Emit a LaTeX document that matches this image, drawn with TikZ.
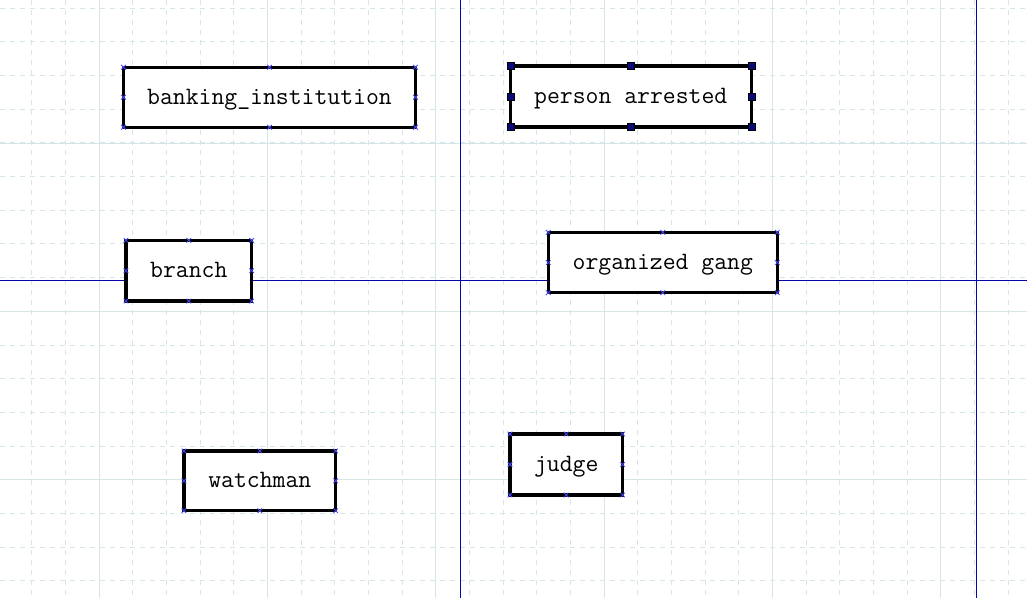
\documentclass[tikz,border=0pt]{standalone}
\definecolor{gridc}{RGB}{214,229,229}
\definecolor{guide}{RGB}{5,5,170}
\definecolor{mark}{RGB}{70,70,255}
\definecolor{handle}{RGB}{10,10,120}
\begin{document}
\begin{tikzpicture}[x=1pt,y=-1pt,
  gridd/.style={draw=gridc, line width=1pt, dash pattern=on 5pt off 5pt},
  grids/.style={draw=gridc, line width=1pt},
  guideline/.style={draw=guide, line width=1.1pt},
  box/.style={draw=black, line width=3.2pt, fill=white, inner sep=0pt, outer sep=0pt,
    font=\ttfamily\fontsize{25}{27}\selectfont, text=black,
    text height=14pt, text depth=0pt},
  xmark/.style={draw=mark, line width=0.8pt},
  hsq/.style={fill=handle, draw=black, line width=0.4pt}]
\useasboundingbox (0,0) rectangle (1027,598);
\fill[white] (0,0) rectangle (1027,598);
% grid
\foreach \k in {0,...,29}{
  \pgfmathsetmacro\xx{31.7+\k*33.67}
  \draw[gridd] (\xx,0) -- (\xx,598);
}
\foreach \k in {0,...,17}{
  \pgfmathsetmacro\yy{8.3+\k*33.67}
  \draw[gridd] (0,\yy) -- (1027,\yy);
}
\foreach \xx in {99,267.4,435.7,604,772.4,940.7}{
  \draw[grids] (\xx,0) -- (\xx,598);
}
\foreach \yy in {143,311.3,479.7}{
  \draw[grids] (0,\yy) -- (1027,\yy);
}
% guide lines
\draw[guideline] (460.3,0) -- (460.3,598);
\draw[guideline] (976.3,0) -- (976.3,598);
\draw[guideline] (0,280.3) -- (1027,280.3);
% boxes
\node[box, minimum width=292pt, minimum height=60pt] (bank) at (269.5,97.3) {banking\_institution};
\node[box, minimum width=241pt, minimum height=61pt] (person) at (630.7,96.5) {person arrested};
\node[box, minimum width=125.7pt, minimum height=60.7pt] (branch) at (188.8,270.7) {branch};
\node[box, minimum width=229pt, minimum height=60.4pt] (gang) at (662.8,262.5) {organized gang};
\node[box, minimum width=151.7pt, minimum height=59.7pt] (watch) at (259.8,480.8) {watchman};
\node[box, minimum width=112.7pt, minimum height=61pt] (judge) at (566.3,464.5) {judge};
% markers
\foreach \n in {bank,branch,gang,watch,judge}{
  \foreach \a in {north west,north,north east,east,south east,south,south west,west}{
    \draw[xmark] ([shift={(-2.3,-2.3)}]\n.\a) -- ([shift={(2.3,2.3)}]\n.\a)
                 ([shift={(-2.3,2.3)}]\n.\a) -- ([shift={(2.3,-2.3)}]\n.\a);
  }
}
\foreach \a in {north west,north,north east,east,south east,south,south west,west}{
  \filldraw[hsq] ([shift={(-3.5,-3.5)}]person.\a) rectangle ([shift={(3.5,3.5)}]person.\a);
}
\end{tikzpicture}
\end{document}
